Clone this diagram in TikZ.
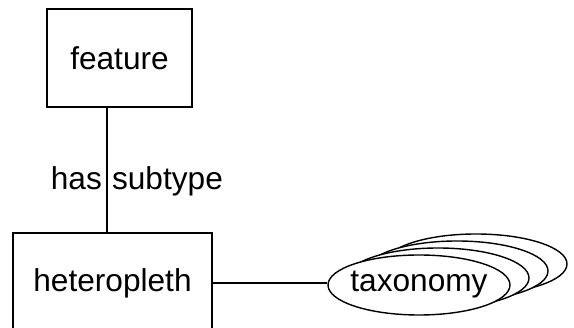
\documentclass[tikz,border=0pt]{standalone}
\usepackage{fontspec}
\setmainfont{Liberation Sans}
\usetikzlibrary{shapes.geometric}
\begin{document}
\begin{tikzpicture}[
  ertype/.style = {draw, line width=0.8pt, inner sep=0pt, font=\fontsize{18}{22}\selectfont},
  erlink/.style = {line width=0.8pt},
  erlbl/.style = {font=\fontsize{18}{22}\selectfont, inner sep=2.5pt},
  ertaxo/.style = {draw, line width=0.8pt, fill=white, ellipse, inner sep=0pt,
                   minimum width=3.64cm, minimum height=1.2cm},
  ertaxoback/.style = {draw, line width=0.8pt, fill=white}
]
  \useasboundingbox (0,0) rectangle (11.48,-6.56);
  \clip (0,0) rectangle (11.48,-6.56);
  % feature box
  \node[ertype, minimum width=2.9cm, minimum height=1.96cm] (feature) at (2.39,-1.16) {feature};
  % heteropleth box (cut at the bottom)
  \node[ertype, minimum width=3.98cm, minimum height=2cm] (hetero) at (2.25,-5.66) {heteropleth};
  % has subtype link
  \draw[erlink] ([xshift=-0.11cm]hetero.north) -- ([xshift=-0.11cm]hetero.north |- feature.south)
    node[erlbl, pos=0.34, anchor=base east] (has) {has}
    node[erlbl, pos=0.34, anchor=base west] (subtype) {subtype};
  % stacked taxonomy ellipses
  \coordinate (taxoc) at (8.38,-5.7);
  \foreach \k in {3,2,1}
    \draw[ertaxoback] ([shift={(\k*0.38,\k*0.14)}]taxoc) ellipse (1.82cm and 0.6cm);
  \node[ertaxo] (taxo) at (taxoc) {};
  \node[erlbl] (taxolbl) at (taxo) {taxonomy};
  \draw[erlink] (hetero.east) -- (hetero.east -| taxo.west);
\end{tikzpicture}
\end{document}
